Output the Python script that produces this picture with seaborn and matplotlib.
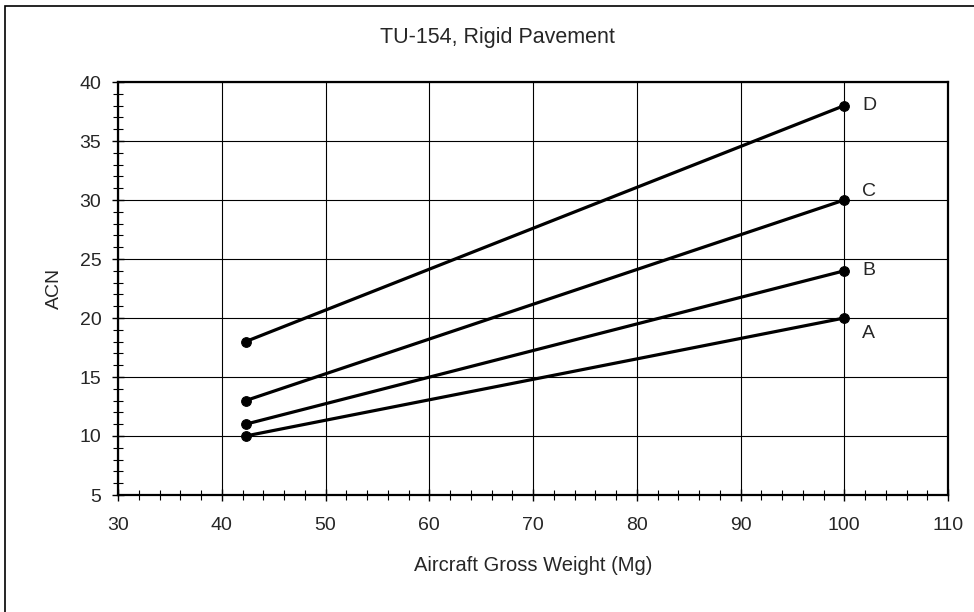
import pandas as pd
import matplotlib.pyplot as plt
import seaborn as sns
from matplotlib.patches import Rectangle
from matplotlib.ticker import MultipleLocator

# values
curves = ["A", "B", "C", "D"]
weights = [42.3, 100]
acn_a = [10, 20]
acn_b = [11, 24]
acn_c = [13, 30]
acn_d = [18, 38]

rows = []
for name, vals in zip(curves, [acn_a, acn_b, acn_c, acn_d]):
    for w, v in zip(weights, vals):
        rows.append({"curve": name, "weight": w, "acn": v})
df = pd.DataFrame(rows)

sns.set_style("white")
plt.rcParams["font.family"] = ["Liberation Sans", "DejaVu Sans"]

fig = plt.figure(figsize=(9.74, 6.12), dpi=100)
ax = fig.add_axes([118 / 974, 1 - 495 / 612, (948 - 118) / 974, (495 - 82) / 612])

sns.lineplot(
    data=df,
    x="weight",
    y="acn",
    hue="curve",
    palette=["black"] * 4,
    marker="o",
    markersize=7,
    markeredgecolor="black",
    linewidth=2.3,
    legend=False,
    ax=ax,
)

# curve letters next to the right end points
offsets = {"A": (13, -11), "B": (13, 0), "C": (13, 6), "D": (13, 0)}
for name, vals in zip(curves, [acn_a, acn_b, acn_c, acn_d]):
    ax.annotate(name, (weights[-1], vals[-1]), xytext=offsets[name],
                textcoords="offset points", fontsize=14, va="center", ha="left")

ax.set_xlim(30, 110)
ax.set_ylim(5, 40)
ax.xaxis.set_major_locator(MultipleLocator(10))
ax.xaxis.set_minor_locator(MultipleLocator(2))
ax.yaxis.set_major_locator(MultipleLocator(5))
ax.yaxis.set_minor_locator(MultipleLocator(1))
ax.grid(True, which="major", color="black", linewidth=0.8)
ax.tick_params(which="both", direction="inout", labelsize=14, color="black",
               bottom=True, left=True)
ax.tick_params(which="major", length=8, width=1)
ax.tick_params(which="minor", length=7, width=0.8)
ax.tick_params(axis="x", which="major", pad=12)
ax.tick_params(axis="y", which="major", pad=8)
for s in ax.spines.values():
    s.set_color("black")
    s.set_linewidth(1.6)

ax.set_xlabel("Aircraft Gross Weight (Mg)", fontsize=14.5, labelpad=16)
ax.set_ylabel("ACN", fontsize=14, labelpad=12)
fig.text(497 / 974, 1 - 37 / 612, "TU-154, Rigid Pavement", fontsize=15.5,
         ha="center", va="center")

# outer frame of the chart area
fig.patches.append(Rectangle((5 / 974, -0.05), 1.0, 1 - 6 / 612 + 0.05,
                             transform=fig.transFigure, fill=False,
                             edgecolor="black", linewidth=1.2))

plt.savefig("out.png", dpi=100)
